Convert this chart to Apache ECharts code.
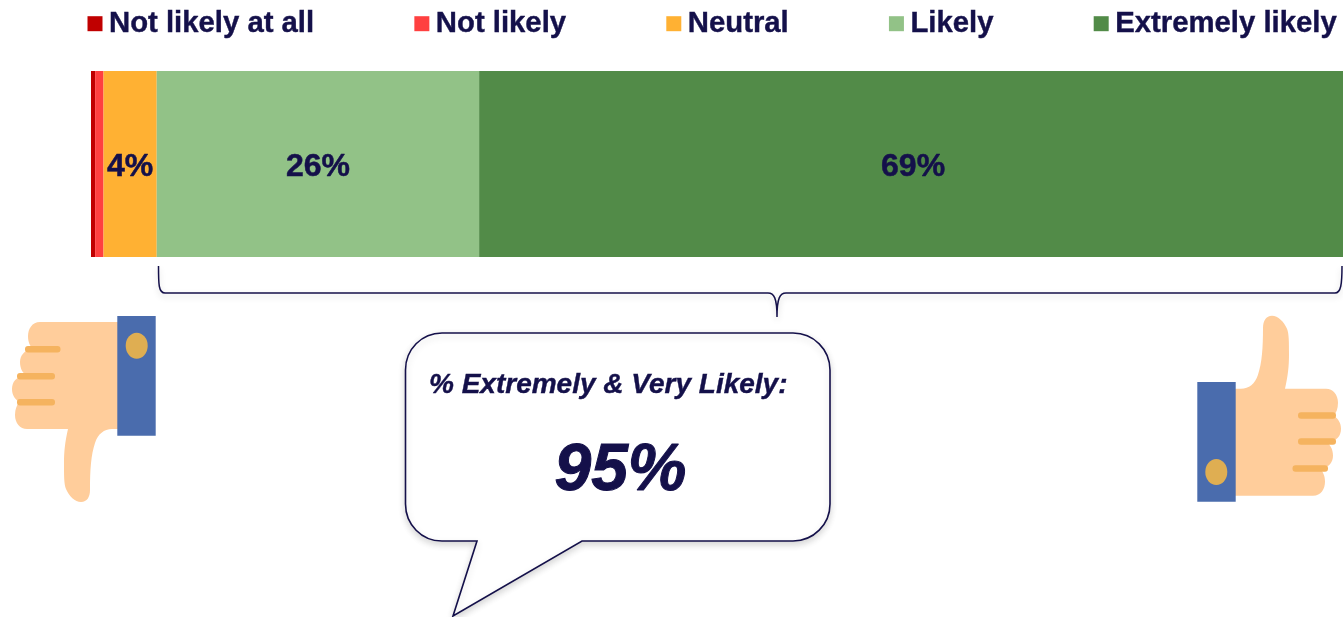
<!DOCTYPE html>
<html>
<head>
<meta charset="utf-8">
<title>Likelihood</title>
<script src="https://cdn.jsdelivr.net/npm/echarts@6/dist/echarts.min.js"></script>
<style>
html, body { margin: 0; padding: 0; background: #fff; overflow: hidden; }
#main { width: 1343px; height: 617px; }
</style>
</head>
<body>
<div id="main"></div>
<script>
// 数据
var categories = ['Likelihood'];
var seriesNames = ['Not likely at all', 'Not likely', 'Neutral', 'Likely', 'Extremely likely'];
var seriesValues = [0.33, 0.67, 4.25, 25.75, 69];
var seriesColors = ['#c00000', '#ff4040', '#ffb133', '#92c287', '#528b48'];
var calloutTitle = '% Extremely & Very Likely:';
var calloutValue = '95%';

var inkColor = '#14104a';
var fontName = '"Liberation Sans", Arial, sans-serif';

// graphic 组件不支持 pathData, 先注册成形状
echarts.graphic.registerShape('bracketShape', echarts.graphic.extendPath(
	'M158.5 266 C158.5 284 158.5 293 165 293 L768 293 C774 293 777 298 777 317 ' +
	'C777 298 780 293 786 293 L1335 293 C1341 293 1342 284 1342 266', {}));
echarts.graphic.registerShape('bubbleShape', echarts.graphic.extendPath(
	'M442 333 L793 333 C813.5 333 830 349.5 830 370 L830 504 C830 524.5 813.5 541 793 541 ' +
	'L582 541 L453 616 L477 541 L442 541 C421.6 541 405.5 524.5 405.5 504 L405.5 370 C405.5 349.5 421.6 333 442 333 Z', {}));
echarts.graphic.registerShape('handShape', echarts.graphic.extendPath(
	'M118 322 L40 322 C32 322 28 329 28 336 C28 342 30 346 33 349 ' +
	'L32 349 C24 350 20 356 20 362 C20 369 23 374 28 376 ' +
	'L24 376 C16 377 12 382 12 389 C12 395 15 399 19 402 ' +
	'C17 405 15 409 15 415 C15 423 20 429 27 429 L68 429 ' +
	'C65 442 64 452 64 463 C64 476 64 484 66 489 C69 496 75 502 81 502 ' +
	'C87 502 90 497 90 490 C90 470 91 455 95 443 C98 434 104 429 112 429 L118 429 Z', {}));

var series = [];
for (var i = 0; i < seriesNames.length; i++) {
	series.push({
		name: seriesNames[i],
		type: 'bar',
		stack: 'total',
		barWidth: '100%',
		data: [seriesValues[i]],
		itemStyle: { color: seriesColors[i] },
		label: {
			show: seriesValues[i] >= 1, // 太窄的不显示
			position: 'inside',
			offset: [i == 4 ? 2 : 0, 3],
			formatter: function(p) { return Math.round(p.value) + '%'; },
			color: inkColor,
			fontFamily: fontName,
			fontWeight: 'bold',
			fontSize: 32,
			textBorderColor: inkColor,
			textBorderWidth: 0.5
		}
	});
}

// 拇指向下的手, 向上的手是旋转180度
function handParts() {
	var grooves = [[25, 346, 35.5, 6.5], [17, 373, 38, 6.5], [17, 399, 38, 6.5]];
	var parts = [{
		type: 'handShape',
		style: { fill: '#ffcd9b' }
	}];
	for (var i = 0; i < grooves.length; i++) {
		parts.push({
			type: 'rect',
			shape: { x: grooves[i][0], y: grooves[i][1], width: grooves[i][2], height: grooves[i][3], r: 3 },
			style: { fill: '#f5b35f' }
		});
	}
	parts.push({
		type: 'rect',
		shape: { x: 117.3, y: 316, width: 38.4, height: 119.7 },
		style: { fill: '#4a6cad' }
	});
	parts.push({
		type: 'circle',
		x: 136.7,
		y: 345.7,
		scaleY: 13 / 11,
		shape: { cx: 0, cy: 0, r: 11 },
		style: { fill: '#dfae52' }
	});
	return parts;
}

var myChart = echarts.init(document.getElementById('main'));
var option = {
	animation: false,
	backgroundColor: '#fff',
	legend: {
		data: seriesNames,
		left: 87.5,
		top: 9,
		padding: 0,
		icon: 'rect',
		itemWidth: 15,
		itemHeight: 15,
		itemGap: 100,
		textStyle: {
			color: inkColor,
			fontFamily: fontName,
			fontWeight: 'bold',
			fontSize: 29.3,
			padding: [4, 0, 0, 1.5],
			textBorderColor: inkColor,
			textBorderWidth: 0.4
		}
	},
	grid: { left: 91, top: 71, width: 1252, height: 186 },
	xAxis: { type: 'value', min: 0, max: 100, show: false },
	yAxis: { type: 'category', data: categories, show: false },
	series: series,
	graphic: [
		{
			// 大括号
			type: 'bracketShape',
			style: {
				fill: null,
				stroke: inkColor,
				lineWidth: 1.5,
				shadowBlur: 6,
				shadowColor: 'rgba(0,0,0,0.18)',
				shadowOffsetY: 3
			}
		},
		{
			// 气泡
			type: 'bubbleShape',
			style: {
				fill: '#fff',
				stroke: inkColor,
				lineWidth: 1.6,
				shadowBlur: 7,
				shadowColor: 'rgba(0,0,0,0.16)',
				shadowOffsetY: 3
			}
		},
		{
			type: 'text',
			x: 429,
			y: 385,
			style: {
				text: calloutTitle,
				fill: inkColor,
				stroke: inkColor,
				lineWidth: 0.4,
				font: 'italic bold 28px ' + fontName,
				textAlign: 'left',
				textVerticalAlign: 'middle'
			}
		},
		{
			type: 'text',
			x: 620.5,
			y: 472,
			style: {
				text: calloutValue,
				fill: inkColor,
				stroke: inkColor,
				lineWidth: 1,
				font: 'italic bold 66px ' + fontName,
				textAlign: 'center',
				textVerticalAlign: 'middle'
			}
		},
		{ type: 'group', children: handParts() },
		{ type: 'group', x: 1353, y: 817.7, rotation: Math.PI, children: handParts() }
	]
};
myChart.setOption(option);
</script>
</body>
</html>
